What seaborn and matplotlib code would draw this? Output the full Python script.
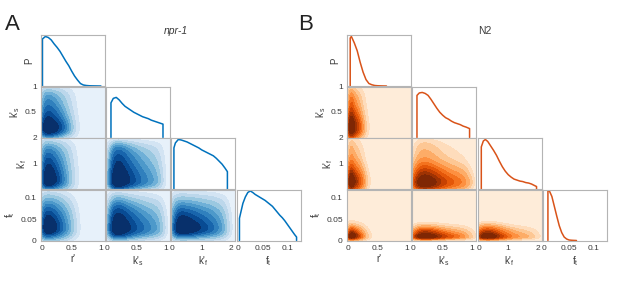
import numpy as np
import pandas as pd
import seaborn as sns
import matplotlib.pyplot as plt
from matplotlib.colors import ListedColormap, BoundaryNorm

# ---- marginal curves (relative height) ----
# npr-1
npr1_r_x = [0.0, 0.05, 0.1, 0.15, 0.2, 0.25, 0.3, 0.35, 0.4, 0.45, 0.5, 0.55, 0.6, 0.65, 0.7, 0.75, 0.8, 0.85, 0.9, 0.95, 1.0]
npr1_r_p = [0.95, 1.0, 0.98, 0.93, 0.85, 0.78, 0.7, 0.6, 0.5, 0.41, 0.3, 0.2, 0.12, 0.05, 0.02, 0.01, 0.005, 0.003, 0.002, 0.001, 0.0]
npr1_ks_x = [0.06, 0.1, 0.15, 0.2, 0.25, 0.3, 0.35, 0.4, 0.45, 0.5, 0.55, 0.6, 0.65, 0.7, 0.75, 0.8, 0.85, 0.9, 0.95]
npr1_ks_p = [0.7, 0.79, 0.81, 0.76, 0.69, 0.63, 0.59, 0.55, 0.51, 0.48, 0.45, 0.42, 0.4, 0.38, 0.35, 0.33, 0.31, 0.29, 0.27]
npr1_kf_x = [0.05, 0.1, 0.2, 0.3, 0.4, 0.5, 0.6, 0.7, 0.8, 0.9, 1.0, 1.1, 1.2, 1.3, 1.4, 1.5, 1.6, 1.7, 1.8, 1.88]
npr1_kf_p = [0.83, 0.93, 1.0, 0.99, 0.97, 0.95, 0.92, 0.89, 0.86, 0.83, 0.79, 0.76, 0.73, 0.7, 0.67, 0.62, 0.56, 0.5, 0.42, 0.35]
npr1_ft_x = [0.003, 0.01, 0.015, 0.02, 0.025, 0.03, 0.035, 0.04, 0.045, 0.05, 0.055, 0.06, 0.065, 0.07, 0.075, 0.08, 0.085, 0.09, 0.095, 0.1, 0.105, 0.11, 0.115, 0.119]
npr1_ft_p = [0.45, 0.75, 0.88, 0.97, 1.0, 0.97, 0.93, 0.9, 0.87, 0.84, 0.81, 0.77, 0.73, 0.69, 0.63, 0.57, 0.51, 0.46, 0.4, 0.33, 0.26, 0.19, 0.12, 0.07]

# N2
n2_r_x = [0.03, 0.05, 0.1, 0.15, 0.2, 0.25, 0.3, 0.35, 0.4, 0.45, 0.5, 0.55, 0.6, 0.65]
n2_r_p = [0.97, 1.0, 0.87, 0.71, 0.48, 0.28, 0.13, 0.05, 0.025, 0.01, 0.005, 0.003, 0.001, 0.0]
n2_ks_x = [0.06, 0.1, 0.15, 0.2, 0.25, 0.3, 0.35, 0.4, 0.45, 0.5, 0.55, 0.6, 0.65, 0.7, 0.75, 0.8, 0.85, 0.9, 0.96]
n2_ks_p = [0.85, 0.9, 0.91, 0.89, 0.85, 0.77, 0.68, 0.59, 0.51, 0.45, 0.4, 0.37, 0.33, 0.3, 0.28, 0.26, 0.23, 0.21, 0.18]
n2_kf_x = [0.08, 0.15, 0.22, 0.3, 0.4, 0.5, 0.6, 0.7, 0.8, 0.9, 1.0, 1.1, 1.2, 1.3, 1.4, 1.5, 1.6, 1.7, 1.8, 1.9, 1.97]
n2_kf_p = [0.85, 0.97, 1.0, 0.96, 0.87, 0.78, 0.68, 0.56, 0.45, 0.36, 0.29, 0.24, 0.2, 0.18, 0.16, 0.15, 0.13, 0.12, 0.1, 0.07, 0.05]
n2_ft_x = [0.007, 0.01, 0.015, 0.02, 0.025, 0.03, 0.035, 0.04, 0.045, 0.05, 0.055, 0.06, 0.065]
n2_ft_p = [1.0, 1.0, 0.89, 0.69, 0.49, 0.3, 0.16, 0.07, 0.03, 0.01, 0.005, 0.002, 0.0]

# ---- axes setup ----
param_labels = ["r'", "k'$_\\mathregular{s}$", "k'$_\\mathregular{f}$", "f$_\\mathregular{t}$"]
param_limits = [(-0.025, 1.07), (-0.025, 1.07), (-0.05, 2.14), (-0.003, 0.127)]
param_xticks = [[0, 0.5, 1], [0, 0.5, 1], [0, 1, 2], [0, 0.05, 0.1]]
param_xticklabels = [["0", "0.5", "1"], ["0", "0.5", "1"], ["0", "1", "2"], ["0", "0.05", "0.1"]]
row_limits = [(0, 1.03), (0, 1), (0, 2), (0, 0.12)]
row_yticks = [[], [0.5, 1], [1, 2], [0, 0.05, 0.1]]
row_yticklabels = [[], ["0.5", "1"], ["1", "2"], ["0", "0.05", "0.1"]]
iso_levels = [0, 0.03, 0.08, 0.15, 0.24, 0.34, 0.45, 0.57, 0.69, 0.81, 1]

W, H = 617, 282
COL_W, ROW_H = 64, 51
row_tops = [35, 86.5, 138, 189.5]
cols_a = [41, 106, 171, 236.5]
cols_b = [347, 412, 477.5, 543]
TXT = "#3a3a3a"

sns.set_theme(style="white")
plt.rcParams["font.family"] = ["Liberation Sans", "DejaVu Sans"]
plt.rcParams["mathtext.fontset"] = "custom"
plt.rcParams["mathtext.rm"] = "Liberation Sans"

fig = plt.figure(figsize=(W / 100, H / 100), dpi=100)

band_pos = np.linspace(0.08, 1, len(iso_levels) - 1)
blue_bands = ListedColormap(sns.color_palette("Blues", as_cmap=True)(band_pos))
orange_bands = ListedColormap(sns.color_palette("Oranges", as_cmap=True)(band_pos))


def corner(cols, curves, bands, color):
    for i in range(4):
        for j in range(i + 1):
            ax = fig.add_axes([cols[j] / W, 1 - (row_tops[i] + ROW_H) / H, COL_W / W, ROW_H / H])
            xs_j, ps_j = curves[j]
            if i == j:
                line = pd.DataFrame({"x": [xs_j[0]] + xs_j + [xs_j[-1]],
                                     "p": [0] + ps_j + [0]})
                sns.lineplot(data=line, x="x", y="p", sort=False, estimator=None,
                             color=color, lw=1.1, ax=ax)
                ax.set_ylim(row_limits[0])
                ax.set_yticks([])
            else:
                ax.set_facecolor(bands(0))
                xs_i, ps_i = curves[i]
                gx, gy = np.meshgrid(xs_j, xs_i)
                w = np.outer(ps_i, ps_j) + 1e-6
                sns.kdeplot(x=gx.ravel(), y=gy.ravel(), weights=w.ravel(), fill=True,
                            levels=iso_levels, cmap="Blues", bw_adjust=0.9, cut=40,
                            clip=(param_limits[j], (row_limits[i][0] - 0.01, row_limits[i][1] * 1.01)),
                            gridsize=120, ax=ax)
                cset = ax.collections[-1]
                cset.set_cmap(bands)
                cset.set_norm(BoundaryNorm(cset.levels, ncolors=bands.N))
                ax.set_ylim(row_limits[i])
                if j == 0:
                    ax.set_yticks(row_yticks[i], row_yticklabels[i])
                else:
                    ax.set_yticks([])
            ax.set_xlim(param_limits[j])
            if i == 3:
                ax.set_xticks(param_xticks[j], param_xticklabels[j])
                ax.set_xlabel(param_labels[j], fontsize=7, color=TXT, labelpad=2)
            else:
                ax.set_xticks([])
                ax.set_xlabel("")
            if j == 0:
                if i == 0:
                    ax.set_ylabel("P", fontsize=7, color=TXT, labelpad=5)
                else:
                    ax.set_ylabel(param_labels[i], fontsize=7, color=TXT, labelpad=2)
            else:
                ax.set_ylabel("")
            ax.tick_params(length=0, labelsize=6, colors=TXT, pad=3)
            for s in ax.spines.values():
                s.set_color("#b4b4b4")
                s.set_linewidth(0.8)


npr1_curves = [(npr1_r_x, npr1_r_p), (npr1_ks_x, npr1_ks_p),
               (npr1_kf_x, npr1_kf_p), (npr1_ft_x, npr1_ft_p)]
n2_curves = [(n2_r_x, n2_r_p), (n2_ks_x, n2_ks_p),
             (n2_kf_x, n2_kf_p), (n2_ft_x, n2_ft_p)]

corner(cols_a, npr1_curves, blue_bands, "#0072BD")
corner(cols_b, n2_curves, orange_bands, "#D95319")

fig.text(12 / W, 1 - 25 / H, "A", fontsize=16, ha="center", va="center", color="#222222")
fig.text(306 / W, 1 - 25 / H, "B", fontsize=16, ha="center", va="center", color="#222222")
fig.text(176 / W, 1 - 31 / H, "npr-1", fontsize=7.5, style="italic", ha="center", va="center", color=TXT)
fig.text(485 / W, 1 - 31 / H, "N2", fontsize=7.5, ha="center", va="center", color=TXT)

fig.savefig("out.png", dpi=100)
